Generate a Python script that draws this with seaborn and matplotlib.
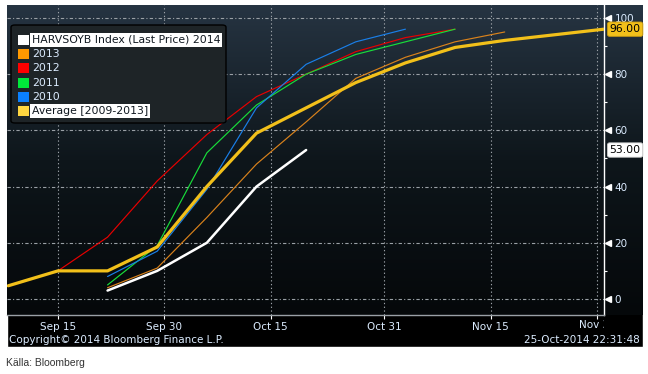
# Progreso de cosecha de soja (HARVSOYB) vs años anteriores

import numpy as np
import pandas as pd
import seaborn as sns
import matplotlib.pyplot as plt
from matplotlib.patches import Rectangle, FancyBboxPatch
from matplotlib.colors import LinearSegmentedColormap
from matplotlib.transforms import Bbox, TransformedBbox, blended_transform_factory, ScaledTranslation

#%% Datos
fechas_2014 = ["2014-09-22", "2014-09-29", "2014-10-06", "2014-10-13", "2014-10-20"]
valores_2014 = [3, 10, 20, 40, 53]

fechas_2013 = ["2014-09-22", "2014-09-29", "2014-10-06", "2014-10-13", "2014-10-20",
               "2014-10-27", "2014-11-03", "2014-11-10", "2014-11-17"]
valores_2013 = [4, 11, 29, 48, 63, 78.5, 86, 91.5, 95]

fechas_2012 = ["2014-09-15", "2014-09-22", "2014-09-29", "2014-10-06", "2014-10-13",
               "2014-10-20", "2014-10-27", "2014-11-03", "2014-11-10"]
valores_2012 = [10, 22, 42, 58.5, 72, 80, 88, 93, 96]

fechas_2011 = ["2014-09-22", "2014-09-29", "2014-10-06", "2014-10-13", "2014-10-20",
               "2014-10-27", "2014-11-03", "2014-11-10"]
valores_2011 = [5, 19, 52, 69, 80, 87, 91.5, 96]

fechas_2010 = ["2014-09-22", "2014-09-29", "2014-10-06", "2014-10-13", "2014-10-20",
               "2014-10-27", "2014-11-03"]
valores_2010 = [8, 17, 39, 68, 83.5, 91.5, 96]

fechas_prom = ["2014-09-08", "2014-09-15", "2014-09-22", "2014-09-29", "2014-10-06",
               "2014-10-13", "2014-10-20", "2014-10-27", "2014-11-03", "2014-11-10",
               "2014-11-17", "2014-11-24", "2014-12-01"]
valores_prom = [4.7, 10, 10, 18.5, 40, 59, 68, 77, 84, 89.5, 92, 94, 96]

etiquetas_leyenda = ["HARVSOYB Index (Last Price) 2014", "2013", "2012", "2011", "2010",
                     "Average [2009-2013]"]
fechas_ticks = ["2014-09-15", "2014-09-30", "2014-10-15", "2014-10-31", "2014-11-15", "2014-11-30"]
etiquetas_ticks = ["Sep 15", "Sep 30", "Oct 15", "Oct 31", "Nov 15", "Nov 30"]
ticks_y = [0, 20, 40, 60, 80, 100]

#%% Figura
sns.set_style("dark", {"axes.facecolor": "none"})

W, H = 648, 374
fig = plt.figure(figsize=(W / 100, H / 100), dpi=100)
fig.patch.set_facecolor("white")


def fx(px):
    return px / W


def fy(py):
    return 1 - py / H


# panel negro de fondo
fig.patches.append(Rectangle((fx(7), fy(347)), fx(643) - fx(7), fy(5) - fy(347),
                             transform=fig.transFigure, facecolor="black", zorder=-2))

# degradado del área del gráfico
bg = fig.add_axes([fx(7), fy(315), fx(643) - fx(7), fy(5) - fy(315)])
bg.set_zorder(-1)
cmap_bg = LinearSegmentedColormap.from_list("bg", ["#05080a", "#0e161b", "#263442"])
bg.imshow(np.linspace(0, 1, 256).reshape(-1, 1), aspect="auto", cmap=cmap_bg,
          origin="lower", extent=[0, 1, 0, 1])
bg.axis("off")

ax = fig.add_axes([fx(7), fy(315), fx(604) - fx(7), fy(5) - fy(315)])
ax.patch.set_alpha(0)

series = [
    (fechas_2012, valores_2012, "#e80000", 0.85),
    (fechas_2011, valores_2011, "#18dd3a", 0.85),
    (fechas_2010, valores_2010, "#1a7fe8", 0.85),
    (fechas_2013, valores_2013, "#d9821c", 0.85),
    (fechas_prom, valores_prom, "#f2c01a", 2.3),
    (fechas_2014, valores_2014, "#ffffff", 1.8),
]
for fechas, valores, color, lw in series:
    df = pd.DataFrame({"fecha": pd.to_datetime(fechas), "valor": valores})
    sns.lineplot(data=df, x="fecha", y="valor", color=color, linewidth=lw, ax=ax,
                 legend=False, zorder=3)

# ejes
x0 = pd.Timestamp("2014-09-15") - pd.Timedelta(days=7.18)
x1 = pd.Timestamp("2014-11-30") + pd.Timedelta(days=1.0)
ax.set_xlim(x0, x1)
ax.set_ylim(-5.7, 104.6)
ax.set_xlabel("")
ax.set_ylabel("")

ax.set_xticks(pd.to_datetime(fechas_ticks))
ax.set_xticklabels(etiquetas_ticks[:-1] + [""])
ax.yaxis.tick_right()
ax.set_yticks(ticks_y)
ax.set_yticks([10, 30, 50, 70, 90], minor=True)

txt_color = "#dcecff"
ax.tick_params(axis="x", colors="white", labelcolor=txt_color, labelsize=7.5,
               length=3, width=0.8, direction="out", pad=2, bottom=True)
ax.tick_params(axis="y", which="major", length=0, labelcolor=txt_color, labelsize=7.5, pad=7.5)
ax.tick_params(axis="y", which="minor", length=2.5, width=0.8, colors="white",
               direction="out", right=True, left=False)

for s in ["left", "top"]:
    ax.spines[s].set_visible(False)
ax.spines["right"].set_visible(True)
ax.spines["right"].set_color("white")
ax.spines["right"].set_linewidth(1)
ax.spines["bottom"].set_visible(True)
ax.spines["bottom"].set_color("#9aa0a6")
ax.spines["bottom"].set_linewidth(1)

ax.grid(axis="x", color="#9aa0a6", linestyle=(0, (1.2, 2.2)), linewidth=0.8)
ax.grid(axis="y", color="#9aa0a6", linestyle=(0, (3, 2, 1, 2)), linewidth=0.8)
ax.set_axisbelow(True)

# flechas de ticks en eje derecho
trans_tri = blended_transform_factory(ax.transAxes, ax.transData) + ScaledTranslation(0.035, 0, fig.dpi_scale_trans)
ax.plot([1] * len(ticks_y), ticks_y, marker="<", ms=4, color="white", ls="none",
        transform=trans_tri, clip_on=False, zorder=5)

# última etiqueta recortada
t = fig.text(fx(597), fy(325), etiquetas_ticks[-1], ha="center", va="center",
             color=txt_color, fontsize=7.5)
t.set_clip_box(TransformedBbox(Bbox([[0, 0], [fx(604), 1]]), fig.transFigure))
t.set_clip_on(True)

# etiquetas de último valor
ax.annotate(f"{valores_prom[-1]:.2f}", xy=(1, valores_prom[-1]), xycoords=("axes fraction", "data"),
            xytext=(4, 0), textcoords="offset points", ha="left", va="center",
            fontsize=7.8, color="black", annotation_clip=False, zorder=6,
            bbox=dict(boxstyle="round,pad=0.2", fc="#f2c01a", ec="#c89a10", lw=0.6))
ax.annotate(f"{valores_2014[-1]:.2f}", xy=(1, valores_2014[-1]), xycoords=("axes fraction", "data"),
            xytext=(4, 0), textcoords="offset points", ha="left", va="center",
            fontsize=7.8, color="black", annotation_clip=False, zorder=6,
            bbox=dict(boxstyle="round,pad=0.2", fc="white", ec="#cccccc", lw=0.6))

# leyenda manual
fig.patches.append(FancyBboxPatch((fx(11), fy(123)), fx(226) - fx(11), fy(25) - fy(123),
                                  boxstyle="round,pad=0,rounding_size=0.006",
                                  transform=fig.transFigure, facecolor="#1e2427",
                                  edgecolor="black", linewidth=1.0, zorder=4))
colores_leyenda = ["#ffffff", "#ff9900", "#ff0000", "#00e83a", "#0a80ff", "#ffd640"]
for i, (lab, col) in enumerate(zip(etiquetas_leyenda, colores_leyenda)):
    yc = 40 + i * 14.2
    fig.patches.append(Rectangle((fx(18), fy(yc + 5)), fx(29) - fx(18), fy(yc - 5) - fy(yc + 5),
                                 transform=fig.transFigure, facecolor=col, edgecolor="none", zorder=5))
    if i in (0, 5):
        fig.text(fx(32), fy(yc), lab, ha="left", va="center", fontsize=7.8, color="#101820",
                 zorder=6, bbox=dict(boxstyle="square,pad=0.15", fc="white", ec="none"))
    else:
        fig.text(fx(32), fy(yc), lab, ha="left", va="center", fontsize=7.8, color=txt_color, zorder=6)

# textos inferiores
fig.text(fx(9), fy(340), "Copyright© 2014 Bloomberg Finance L.P.", ha="left", va="center",
         fontsize=7.5, color=txt_color)
fig.text(fx(640), fy(340), "25-Oct-2014 22:31:48", ha="right", va="center",
         fontsize=7.5, color=txt_color)
fig.text(fx(6), fy(363), "Källa: Bloomberg", ha="left", va="center", fontsize=7.5,
         color="#333333", family="Liberation Sans")

fig.savefig("out.png", dpi=100)
